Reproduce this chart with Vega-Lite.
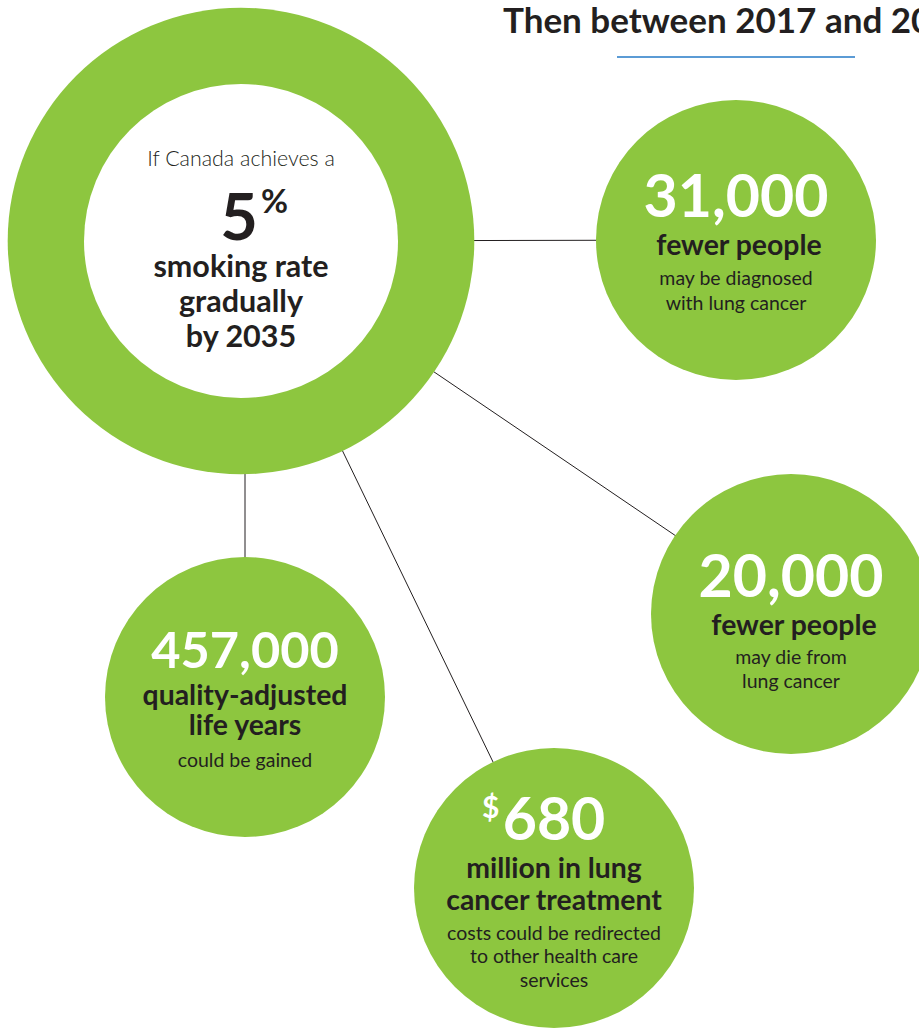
{
  "$schema": "https://vega.github.io/schema/vega-lite/v6.json",
  "width": 919,
  "height": 1028,
  "autosize": {"type": "none"},
  "padding": 0,
  "background": "white",
  "config": {"view": {"stroke": null}},
  "datasets": {
    "nodes": [
      {"name": "hub", "kind": "hub", "x": 241, "y": 241},
      {"name": "diagnosed", "kind": "outcome", "x": 736, "y": 240},
      {"name": "deaths", "kind": "outcome", "x": 791, "y": 614},
      {"name": "qaly", "kind": "outcome", "x": 245, "y": 697},
      {"name": "costs", "kind": "outcome", "x": 554, "y": 888}
    ],
    "links": [
      {"from": "hub", "to": "diagnosed", "x": 241, "y": 241, "x2": 736, "y2": 240},
      {"from": "hub", "to": "deaths", "x": 241, "y": 241, "x2": 791, "y2": 614},
      {"from": "hub", "to": "qaly", "x": 245, "y": 241, "x2": 245, "y2": 697},
      {"from": "hub", "to": "costs", "x": 241, "y": 241, "x2": 554, "y2": 888}
    ],
    "underline": [
      {"x": 617, "x2": 855, "y": 57}
    ],
    "labels": [
      {"role": "title", "text": "Then between 2017 and 2035", "x": 503, "y": 33},
      {"role": "intro", "text": "If Canada achieves a", "x": 241, "y": 166},
      {"role": "big", "text": "5", "x": 239, "y": 240},
      {"role": "sup", "text": "%", "x": 261, "y": 213},
      {"role": "hubhead", "text": "smoking rate", "x": 241, "y": 277},
      {"role": "hubhead", "text": "gradually", "x": 241, "y": 312},
      {"role": "hubhead", "text": "by 2035", "x": 241, "y": 347},
      {"role": "figure", "text": "31,000", "x": 736, "y": 217},
      {"role": "head", "text": "fewer people", "x": 739, "y": 255},
      {"role": "detail", "text": "may be diagnosed", "x": 736, "y": 285},
      {"role": "detail", "text": "with lung cancer", "x": 736, "y": 310},
      {"role": "figure", "text": "20,000", "x": 791, "y": 597},
      {"role": "head", "text": "fewer people", "x": 794, "y": 635},
      {"role": "detail", "text": "may die from", "x": 791, "y": 664},
      {"role": "detail", "text": "lung cancer", "x": 791, "y": 688},
      {"role": "figure_small", "text": "457,000", "x": 245, "y": 668},
      {"role": "head", "text": "quality-adjusted", "x": 245, "y": 705},
      {"role": "head", "text": "life years", "x": 245, "y": 735},
      {"role": "detail", "text": "could be gained", "x": 245, "y": 767},
      {"role": "dollar", "text": "$", "x": 482, "y": 818},
      {"role": "figure", "text": "680", "x": 554, "y": 840},
      {"role": "head", "text": "million in lung", "x": 554, "y": 878},
      {"role": "head", "text": "cancer treatment", "x": 554, "y": 910},
      {"role": "detail", "text": "costs could be redirected", "x": 554, "y": 940},
      {"role": "detail", "text": "to other health care", "x": 554, "y": 963},
      {"role": "detail", "text": "services", "x": 554, "y": 987}
    ]
  },
  "encoding": {
    "x": {"field": "x", "type": "quantitative", "scale": {"domain": [0, 919], "nice": false, "zero": false}, "axis": null},
    "y": {"field": "y", "type": "quantitative", "scale": {"domain": [0, 1028], "nice": false, "zero": false, "reverse": true}, "axis": null}
  },
  "layer": [
    {
      "data": {"name": "links"},
      "mark": {"type": "rule", "color": "#231F20", "strokeWidth": 1},
      "encoding": {"x2": {"field": "x2"}, "y2": {"field": "y2"}}
    },
    {
      "data": {"name": "underline"},
      "mark": {"type": "rule", "color": "#5B9BD5", "strokeWidth": 2},
      "encoding": {"x2": {"field": "x2"}}
    },
    {
      "data": {"name": "nodes"},
      "transform": [{"filter": "datum.kind === 'hub'"}],
      "mark": {"type": "point", "shape": "circle", "filled": true, "opacity": 1, "color": "#8DC63F", "size": 217716, "strokeWidth": 0}
    },
    {
      "data": {"name": "nodes"},
      "transform": [{"filter": "datum.kind === 'hub'"}],
      "mark": {"type": "point", "shape": "circle", "filled": true, "opacity": 1, "color": "#FFFFFF", "size": 98596, "strokeWidth": 0}
    },
    {
      "data": {"name": "nodes"},
      "transform": [{"filter": "datum.kind === 'outcome'"}],
      "mark": {"type": "point", "shape": "circle", "filled": true, "opacity": 1, "color": "#8DC63F", "size": 78400, "strokeWidth": 0}
    },
    {
      "data": {"name": "labels"},
      "transform": [{"filter": "datum.role === 'title'"}],
      "mark": {"type": "text", "align": "left", "baseline": "alphabetic", "font": "Lato", "fontWeight": "bold", "fontSize": 35, "color": "#231F20"},
      "encoding": {"text": {"field": "text"}}
    },
    {
      "data": {"name": "labels"},
      "transform": [{"filter": "datum.role === 'intro'"}],
      "mark": {"type": "text", "align": "center", "baseline": "alphabetic", "font": "Lato", "fontWeight": 300, "fontSize": 21.4, "color": "#231F20"},
      "encoding": {"text": {"field": "text"}}
    },
    {
      "data": {"name": "labels"},
      "transform": [{"filter": "datum.role === 'big'"}],
      "mark": {"type": "text", "align": "center", "baseline": "alphabetic", "font": "Lato", "fontWeight": "bold", "fontSize": 65, "color": "#231F20"},
      "encoding": {"text": {"field": "text"}}
    },
    {
      "data": {"name": "labels"},
      "transform": [{"filter": "datum.role === 'sup'"}],
      "mark": {"type": "text", "align": "left", "baseline": "alphabetic", "font": "Lato", "fontWeight": "bold", "fontSize": 33, "color": "#231F20"},
      "encoding": {"text": {"field": "text"}}
    },
    {
      "data": {"name": "labels"},
      "transform": [{"filter": "datum.role === 'hubhead'"}],
      "mark": {"type": "text", "align": "center", "baseline": "alphabetic", "font": "Lato", "fontWeight": "bold", "fontSize": 30.5, "color": "#231F20"},
      "encoding": {"text": {"field": "text"}}
    },
    {
      "data": {"name": "labels"},
      "transform": [{"filter": "datum.role === 'figure'"}],
      "mark": {"type": "text", "align": "center", "baseline": "alphabetic", "font": "Lato", "fontWeight": "bold", "fontSize": 59, "color": "#FFFFFF"},
      "encoding": {"text": {"field": "text"}}
    },
    {
      "data": {"name": "labels"},
      "transform": [{"filter": "datum.role === 'figure_small'"}],
      "mark": {"type": "text", "align": "center", "baseline": "alphabetic", "font": "Lato", "fontWeight": "bold", "fontSize": 50.5, "color": "#FFFFFF"},
      "encoding": {"text": {"field": "text"}}
    },
    {
      "data": {"name": "labels"},
      "transform": [{"filter": "datum.role === 'dollar'"}],
      "mark": {"type": "text", "align": "left", "baseline": "alphabetic", "font": "Lato", "fontWeight": "bold", "fontSize": 30, "color": "#FFFFFF"},
      "encoding": {"text": {"field": "text"}}
    },
    {
      "data": {"name": "labels"},
      "transform": [{"filter": "datum.role === 'head'"}],
      "mark": {"type": "text", "align": "center", "baseline": "alphabetic", "font": "Lato", "fontWeight": "bold", "fontSize": 28.4, "color": "#231F20"},
      "encoding": {"text": {"field": "text"}}
    },
    {
      "data": {"name": "labels"},
      "transform": [{"filter": "datum.role === 'detail'"}],
      "mark": {"type": "text", "align": "center", "baseline": "alphabetic", "font": "Lato", "fontWeight": "normal", "fontSize": 19.5, "color": "#231F20"},
      "encoding": {"text": {"field": "text"}}
    }
  ]
}
